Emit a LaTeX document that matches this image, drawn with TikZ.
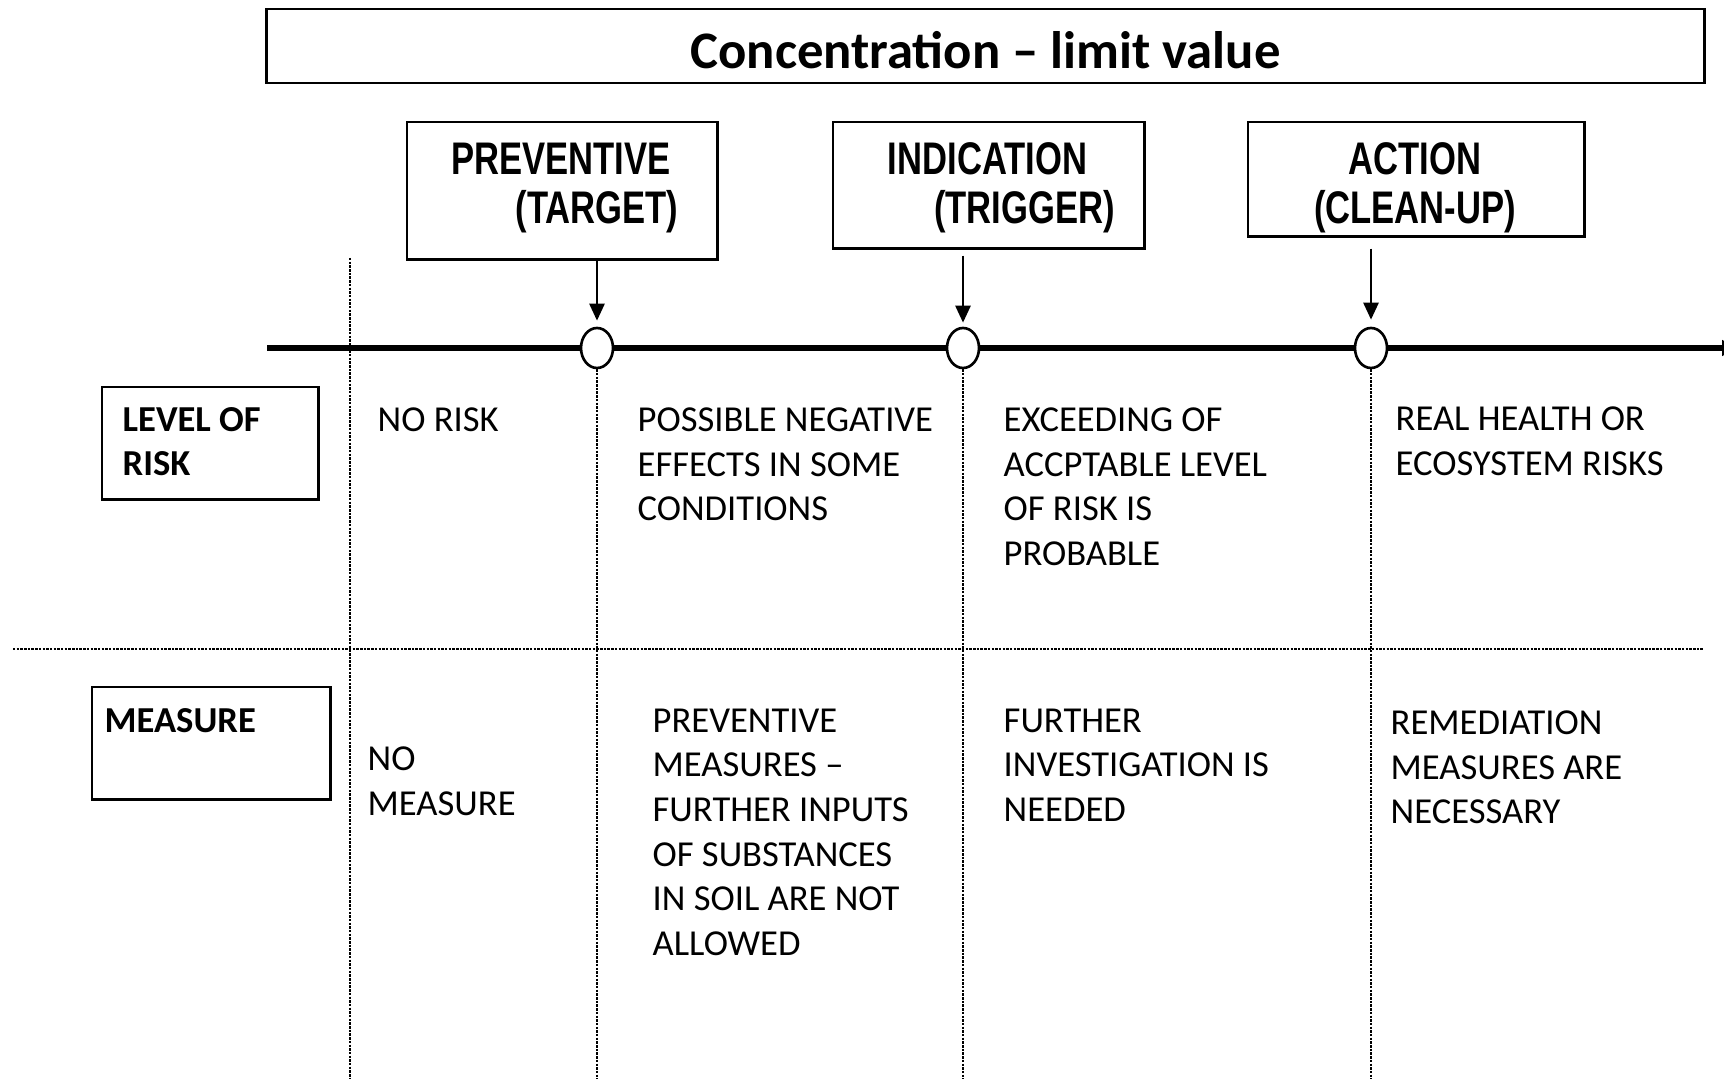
\documentclass[tikz,border=0pt]{standalone}
\usepackage{fontspec}
\setmainfont{Carlito}
\newfontfamily\boxfont[FakeStretch=0.757]{Liberation Sans}
\usetikzlibrary{positioning}
\usetikzlibrary{shapes.geometric}
\usetikzlibrary{arrows.meta}

\tikzset{
  framebox/.style={draw, line width=0.7pt, inner sep=0pt},
  boxtext/.style={font=\boxfont\bfseries\fontsize{13}{14}\selectfont, align=center, inner sep=0pt, anchor=north},
  rowhead/.style={font=\bfseries\fontsize{10.4}{12.5}\selectfont, align=left, inner sep=0pt, anchor=north west},
  celltext/.style={font=\fontsize{10.4}{12.7}\selectfont, align=left, inner sep=0pt, anchor=north west},
  limitpoint/.style={draw, ellipse, fill=white, line width=0.75pt, minimum width=0.32cm, minimum height=0.40cm, inner sep=0pt},
  pointer/.style={-{Triangle[length=1.7mm,width=1.5mm]}, line width=0.75pt},
  divider/.style={line width=0.75pt, dash pattern=on 0.7pt off 0.35pt},
}

\begin{document}
\begin{tikzpicture}[x=0.01cm, y=-0.01cm]
\useasboundingbox (0,0) rectangle (1724,1079);
\coordinate (bottom) at (0,1079);

\node (title) [framebox, minimum width=14.37cm, minimum height=0.74cm, text height=13pt, text depth=0pt, font=\bfseries\fontsize{15}{18}\selectfont] at (985.5,46) {Concentration -- limit value};

\node (prevbox) [framebox, minimum width=3.10cm, minimum height=1.37cm, anchor=north west] at (406,121) {};
\node (indbox) [framebox, minimum width=3.11cm, minimum height=1.26cm, anchor=north west] at (832,121) {};
\node (actbox) [framebox, minimum width=3.36cm, minimum height=1.14cm, anchor=north west] at (1247,121) {};

\node (prevtxt) [boxtext] at (561,142) {PREVENTIVE\\\hspace*{0.72cm}(TARGET)};
\node (indtxt) [boxtext] at (987.5,142) {INDICATION\\\hspace*{0.74cm}(TRIGGER)};
\node (acttxt) [boxtext] at (1415,142) {ACTION\\(CLEAN-UP)};

\coordinate (axisstart) at (267,348);
\coordinate (axisend) at (1738,348);
\draw[line width=1.7pt, -{Triangle[length=1.6mm,width=1.5mm]}] (axisstart) -- (axisend);

\node (target) [limitpoint] at (597,348) {};
\node (trigger) [limitpoint] at (963,348) {};
\node (cleanup) [limitpoint] at (1371,348) {};

\draw[pointer, shorten >=0.06cm] (prevbox.south -| target) -- (target.north);
\draw[pointer, shorten >=0.04cm] ([yshift=-0.06cm]indbox.south -| trigger) -- (trigger.north);
\draw[pointer, shorten >=0.07cm] ([yshift=-0.11cm]actbox.south -| cleanup) -- (cleanup.north);

\draw[divider] (350,258) -- (350,1079);
\draw[divider] (target.south) -- (target |- bottom);
\draw[divider] (trigger.south) -- (trigger |- bottom);
\draw[divider] (cleanup.south) -- (cleanup |- bottom);
\draw[divider] (13,649) -- (1704,649);

\node (riskbox) [framebox, minimum width=2.16cm, minimum height=1.12cm, anchor=north west] at (101,386) {};
\node (measbox) [framebox, minimum width=2.38cm, minimum height=1.12cm, anchor=north west] at (91,686) {};
\node (risklbl) [rowhead] at (122,407) {LEVEL OF\\RISK};
\node (measlbl) [rowhead] at (104,708) {MEASURE};

\node (risk0) [celltext] at (377,407) {NO RISK};
\node (risk1) [celltext] at (637,407) {POSSIBLE NEGATIVE\\EFFECTS IN SOME\\CONDITIONS};
\node (risk2) [celltext] at (1003,407) {EXCEEDING OF\\ACCPTABLE LEVEL\\OF RISK IS\\PROBABLE};
\node (risk3) [celltext] at (1395,406) {REAL HEALTH OR\\ECOSYSTEM RISKS};

\node (meas0) [celltext] at (367,746) {NO\\MEASURE};
\node (meas1) [celltext] at (652,708) {PREVENTIVE\\MEASURES --\\FURTHER INPUTS\\OF SUBSTANCES\\IN SOIL ARE NOT\\ALLOWED};
\node (meas2) [celltext] at (1003,708) {FURTHER\\INVESTIGATION IS\\NEEDED};
\node (meas3) [celltext] at (1390,710) {REMEDIATION\\MEASURES ARE\\NECESSARY};
\end{tikzpicture}
\end{document}
